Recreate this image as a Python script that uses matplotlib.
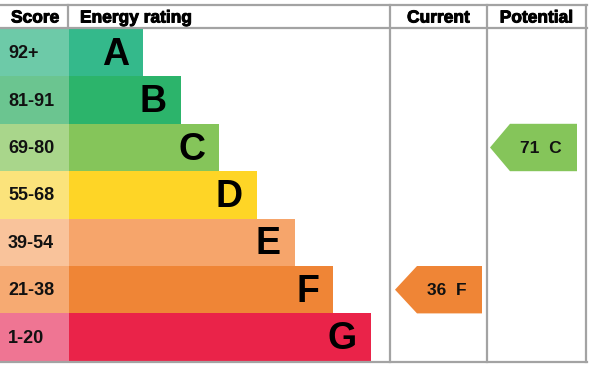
import matplotlib
matplotlib.use("Agg")
import matplotlib.pyplot as plt
import matplotlib.patheffects as pe
from matplotlib.patches import Rectangle, Polygon

# данные
bands = ['A', 'B', 'C', 'D', 'E', 'F', 'G']
scores = ['92+', '81-91', '69-80', '55-68', '39-54', '21-38', '1-20']
bar_colors = ['#34b98b', '#2cb46b', '#85c55a', '#fed526', '#f6a56b', '#ef8536', '#ea2349']
score_colors = ['#6dcaa8', '#6bc590', '#a9d68b', '#fbe37b', '#f9c39b', '#f6aa72', '#ef7593']
current = 36
current_band = 'F'
potential = 71
potential_band = 'C'

plt.rcParams['font.family'] = ['Liberation Sans', 'DejaVu Sans']

fig = plt.figure(figsize=(5.91, 3.68), dpi=100)
ax = fig.add_axes([0, 0, 1, 1])
ax.set_xlim(0, 591)
ax.set_ylim(368, 0)
ax.axis('off')

top = 29.0
row_h = 47.4
score_w = 68
bar_x0 = 69
bar_w0 = 74
bar_step = 38
cur_x = (390, 487)
pot_x = (487, 586)
grey = '#a3a3a3'
heavy = [pe.withStroke(linewidth=0.7, foreground='black')]

for i, b in enumerate(bands):
    y = top + i * row_h
    ax.add_patch(Rectangle((0, y), score_w + 1, row_h, color=score_colors[i], lw=0))
    w = bar_w0 + i * bar_step
    ax.add_patch(Rectangle((bar_x0, y), w, row_h, color=bar_colors[i], lw=0))
    ax.text(8, y + row_h / 2 + 1, scores[i], ha='left', va='center',
            fontsize=13, fontweight='bold', color='#111111')
    ax.text(bar_x0 + w - 14, y + row_h / 2 + 2, b, ha='right', va='center',
            fontsize=27, fontweight='bold', color='black')


def arrow(val, band, x0, x1, shoulder):
    i = bands.index(band)
    y0 = top + i * row_h
    y1 = y0 + row_h
    pts = [(x0, (y0 + y1) / 2), (x0 + shoulder, y0), (x1, y0), (x1, y1), (x0 + shoulder, y1)]
    ax.add_patch(Polygon(pts, closed=True, color=bar_colors[i], lw=0))
    ax.text((x0 + shoulder + x1) / 2 - 3, (y0 + y1) / 2 + 1, f'{val}  {band}',
            ha='center', va='center', fontsize=12.5, fontweight='bold', color='#111111')


arrow(current, current_band, cur_x[0] + 5, cur_x[1] - 5, 22)
arrow(potential, potential_band, pot_x[0] + 3, pot_x[1] - 9, 20)

# сетка
lw = 1.6
ax.plot([0, 587], [5, 5], color=grey, lw=lw)
ax.plot([0, 587], [28, 28], color=grey, lw=lw)
ax.plot([0, 587], [362, 362], color=grey, lw=lw)
ax.plot([68, 68], [5, 28], color=grey, lw=lw)
for x in (cur_x[0], cur_x[1], pot_x[1]):
    ax.plot([x, x], [5, 362], color=grey, lw=lw)

hdr = dict(va='center', fontsize=12.5, fontweight='bold', path_effects=heavy)
ax.text(35, 18, 'Score', ha='center', **hdr)
ax.text(80, 18, 'Energy rating', ha='left', **hdr)
ax.text(sum(cur_x) / 2, 18, 'Current', ha='center', **hdr)
ax.text(sum(pot_x) / 2, 18, 'Potential', ha='center', **hdr)

fig.savefig('out.png', dpi=100)
